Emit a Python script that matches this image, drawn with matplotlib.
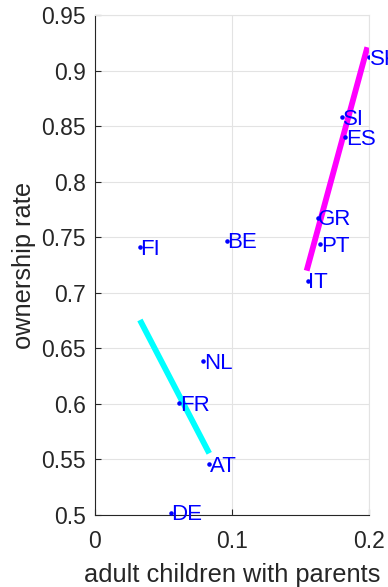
import matplotlib
matplotlib.use("Agg")
import matplotlib.pyplot as plt

plt.rcParams["font.family"] = ["Liberation Sans", "DejaVu Sans"]

# countries: share of adult children living with parents vs ownership rate
countries = ["SK", "SI", "ES", "GR", "PT", "IT", "FI", "BE", "NL", "FR", "AT", "DE"]
children = [0.200, 0.1805, 0.1825, 0.1625, 0.1642, 0.1552, 0.0328, 0.0961,
            0.0791, 0.0613, 0.0834, 0.0552]
ownership = [0.912, 0.858, 0.840, 0.7676, 0.7436, 0.711, 0.741, 0.747,
             0.6386, 0.6005, 0.5456, 0.502]

# fitted lines
fit_low_x = [0.0328, 0.0834]
fit_low_y = [0.6755, 0.5555]
fit_high_x = [0.1545, 0.1988]
fit_high_y = [0.7199, 0.921]

fig = plt.figure(figsize=(3.88, 5.87), dpi=100)
ax = fig.add_axes([0.2448, 0.1227, 0.951 - 0.2448, 0.9744 - 0.1227])

ax.plot(children, ownership, linestyle="none", marker=".", color="blue",
        markersize=4.5, zorder=3)
for name, x, y in zip(countries, children, ownership):
    ax.annotate(name, (x, y), xytext=(0.5, -1.5), textcoords="offset points",
                color="blue", fontsize=16, ha="left", va="center", zorder=4)

ax.plot(fit_low_x, fit_low_y, color="cyan", linewidth=4.2, zorder=2,
        solid_capstyle="butt")
ax.plot(fit_high_x, fit_high_y, color="magenta", linewidth=4.2, zorder=2,
        solid_capstyle="butt")

ax.set_xlim(0, 0.2)
ax.set_ylim(0.5, 0.95)
ax.set_xticks([0, 0.1, 0.2])
ax.set_xticklabels(["0", "0.1", "0.2"])
ax.set_yticks([0.5, 0.55, 0.6, 0.65, 0.7, 0.75, 0.8, 0.85, 0.9, 0.95])
ax.set_yticklabels(["0.5", "0.55", "0.6", "0.65", "0.7", "0.75", "0.8",
                    "0.85", "0.9", "0.95"])

ax.grid(True, color="#e3e3e3", linewidth=0.8)
ax.set_axisbelow(True)
for side in ["top", "right"]:
    ax.spines[side].set_color("#e3e3e3")
    ax.spines[side].set_linewidth(0.8)
for side in ["left", "bottom"]:
    ax.spines[side].set_color("#262626")
    ax.spines[side].set_linewidth(0.8)

ax.tick_params(axis="both", colors="#262626", labelsize=16.5,
               direction="in", length=4, width=0.8)
ax.tick_params(axis="y", pad=6.5)
ax.tick_params(axis="x", pad=11)

ax.set_xlabel("adult children with parents", fontsize=18.3, color="#262626",
              labelpad=7)
ax.set_ylabel("ownership rate", fontsize=18.3, color="#262626", labelpad=4)

fig.savefig("out.png", dpi=100)
